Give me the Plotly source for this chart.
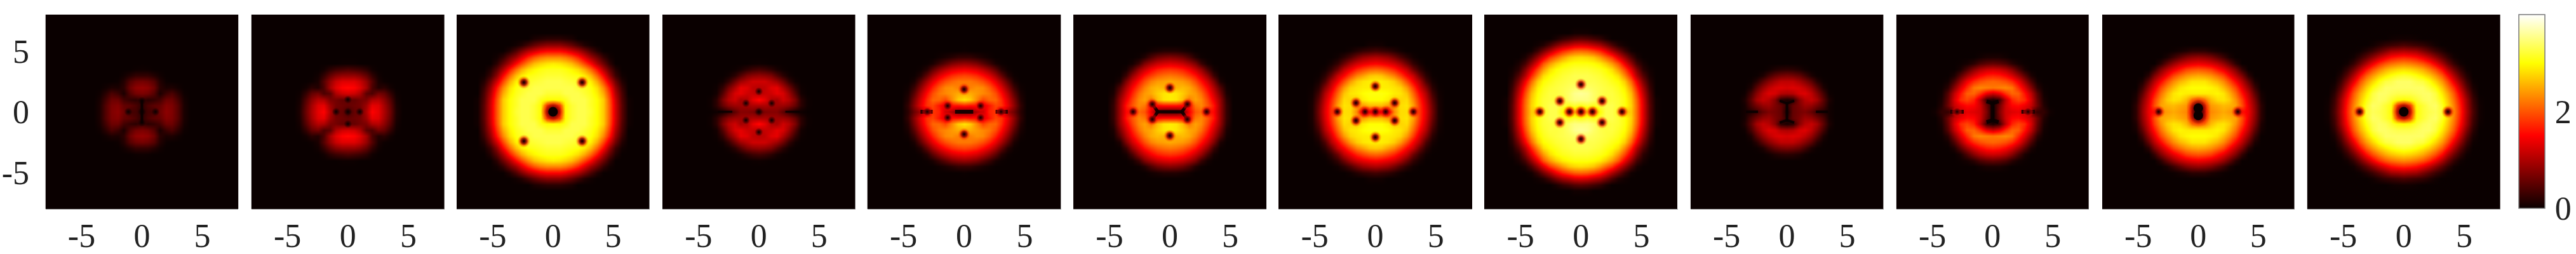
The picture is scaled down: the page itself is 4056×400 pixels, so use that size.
import numpy as np
import plotly.graph_objects as go

# density, one quadrant per panel: rows go y=0,0.5,1.. and
# columns x=0,0.5,1.. ; whatever a row leaves out is background (0)
P1 = [
    [.2, .35, .35, .6, .8, .72, .45, .1],
    [.2, .4, .5, .55, .75, .7, .45, .1],
    [.3, .2, .25, .35, .6, .6, .35, .08],
    [.7, .65, .45, .1, .3, .4, .2, .03],
    [.85, .8, .6, .2, .1, .12, .05],
    [.65, .6, .45, .15, .02],
    [.25, .25, .15, .05],
    [.03, .02],
]
P2 = [
    [.3, .55, .55, 1.0, 1.5, 1.35, 1.0, .6, .12],
    [.55, .6, .65, .9, 1.35, 1.3, .95, .55, .1],
    [.55, .55, .65, .7, 1.0, 1.05, .8, .45, .07],
    [1.25, 1.2, 1.0, .5, .4, .65, .55, .25, .03],
    [1.55, 1.5, 1.3, .95, .4, .15, .2, .06],
    [1.3, 1.3, 1.15, .85, .45, .1, .02],
    [.85, .85, .75, .55, .25, .05],
    [.4, .35, .3, .2, .05],
    [.02, .02],
]
P3 = [
    [1.5, 1.7, 3.0, 3.2, 3.3, 3.3, 3.2, 3.0, 2.7, 2.0, 1.2, .5, .05],
    [1.7, 1.9, 3.0, 3.2, 3.3, 3.3, 3.15, 3.0, 2.7, 2.0, 1.2, .5, .05],
    [3.0, 3.0, 3.1, 3.3, 3.3, 3.3, 3.15, 3.0, 2.7, 1.95, 1.15, .45, .05],
    [3.2, 3.2, 3.3, 3.3, 3.3, 3.2, 3.1, 2.9, 2.5, 1.8, 1.0, .4],
    [3.3, 3.3, 3.3, 3.3, 3.2, 3.15, 3.05, 2.8, 2.3, 1.6, .85, .3],
    [3.3, 3.3, 3.25, 3.2, 3.15, 3.05, 2.9, 2.5, 1.9, 1.2, .6, .15],
    [3.2, 3.2, 3.15, 3.1, 3.05, 2.9, 2.6, 2.1, 1.5, .8, .3, .05],
    [3.1, 3.1, 3.05, 2.95, 2.8, 2.5, 2.1, 1.6, 1.0, .5, .15],
    [2.9, 2.85, 2.75, 2.6, 2.3, 1.9, 1.5, 1.0, .6, .2],
    [2.3, 2.3, 2.2, 2.0, 1.7, 1.3, .9, .6, .25, .05],
    [1.5, 1.5, 1.4, 1.2, 1.0, .7, .4, .15],
    [.8, .8, .7, .55, .35, .15, .05],
    [.2, .2, .15, .1],
]
P4 = [
    [.4, .7, .75, .75, .5, .25, .08, .02],
    [1.0, 1.0, .9, .9, .9, .8, .55, .2, .03],
    [1.55, 1.35, 1.0, .95, 1.2, 1.05, .7, .2, .03],
    [1.0, 1.15, 1.2, 1.35, 1.25, .9, .45, .06],
    [1.05, 1.1, 1.3, 1.35, 1.0, .65, .25, .03],
    [1.2, 1.2, 1.05, .9, .6, .25, .05],
    [.85, .8, .7, .45, .2, .05],
    [.35, .3, .2, .08, .02],
    [.03, .02],
]
P5 = [
    [.6, .7, 1.0, 1.2, 1.7, 1.8, 1.3, .9, .6, .2],
    [1.7, 1.6, 1.6, 1.3, 1.6, 1.9, 1.8, 1.35, .8, .25],
    [2.85, 2.7, 2.3, 1.9, 2.1, 2.1, 1.75, 1.25, .7, .17],
    [2.5, 2.5, 2.4, 2.3, 2.2, 1.95, 1.55, 1.05, .5, .1],
    [2.2, 2.25, 2.35, 2.3, 2.05, 1.7, 1.3, .8, .3, .04],
    [2.2, 2.2, 2.1, 1.95, 1.7, 1.35, .95, .5, .1],
    [1.9, 1.85, 1.75, 1.55, 1.3, .95, .55, .17, .02],
    [1.4, 1.35, 1.25, 1.05, .8, .5, .17, .03],
    [.85, .8, .7, .5, .3, .1, .02],
    [.25, .25, .17, .1, .04],
    [.02],
]
P6 = [
    [.4, .4, .6, 1.4, 2.0, 2.1, 1.7, 1.5, .9, .25],
    [1.6, 1.6, 1.5, 1.6, 2.2, 2.3, 2.0, 1.6, .9, .25],
    [2.9, 2.85, 2.6, 2.2, 2.45, 2.3, 1.9, 1.4, .85, .2],
    [2.9, 2.85, 2.7, 2.5, 2.4, 2.15, 1.7, 1.2, .65, .1],
    [2.5, 2.55, 2.6, 2.5, 2.25, 1.9, 1.5, 1.0, .45, .05],
    [2.5, 2.45, 2.4, 2.25, 1.95, 1.6, 1.2, .7, .12],
    [2.2, 2.15, 2.05, 1.85, 1.6, 1.25, .85, .3, .02],
    [1.8, 1.75, 1.65, 1.45, 1.15, .85, .4, .07],
    [1.3, 1.25, 1.15, .95, .7, .3, .07],
    [.75, .7, .6, .4, .15, .03],
    [.15, .15, .1, .05],
]
P7 = [
    [1.2, 1.4, 1.2, 2.3, 2.8, 2.8, 2.3, 1.8, 1.3, .65, .1],
    [2.6, 2.6, 2.4, 2.5, 2.8, 2.85, 2.45, 1.8, 1.25, .6, .1],
    [3.0, 3.0, 2.9, 2.7, 2.75, 2.8, 2.3, 1.7, 1.15, .5, .08],
    [3.05, 3.05, 3.0, 2.9, 2.85, 2.65, 2.1, 1.5, 1.0, .35, .05],
    [2.9, 2.9, 2.9, 2.85, 2.75, 2.4, 1.85, 1.25, .75, .2, .02],
    [2.9, 2.9, 2.85, 2.7, 2.4, 1.95, 1.45, 1.0, .4, .08],
    [2.7, 2.65, 2.45, 2.25, 1.9, 1.5, 1.15, .6, .2, .02],
    [2.1, 2.05, 1.9, 1.7, 1.4, 1.1, .6, .25, .05],
    [1.5, 1.45, 1.35, 1.2, .95, .6, .25, .08],
    [1.0, .95, .85, .65, .4, .2, .05],
    [.35, .3, .25, .15, .05],
    [.05, .05],
]
P8 = [
    [2.0, 2.6, 2.2, 3.0, 3.3, 3.3, 3.1, 2.6, 2.7, 2.1, 1.3, .5, .05],
    [3.1, 3.2, 3.1, 3.2, 3.3, 3.3, 3.2, 3.05, 2.75, 2.1, 1.3, .5, .05],
    [3.5, 3.5, 3.4, 3.2, 3.2, 3.25, 3.2, 3.05, 2.7, 2.05, 1.25, .45, .05],
    [3.6, 3.55, 3.4, 3.3, 3.25, 3.25, 3.15, 3.0, 2.6, 1.9, 1.1, .4],
    [3.4, 3.4, 3.35, 3.3, 3.25, 3.2, 3.1, 2.9, 2.4, 1.7, .95, .3],
    [3.3, 3.3, 3.3, 3.25, 3.2, 3.1, 3.0, 2.7, 2.1, 1.4, .7, .2],
    [3.3, 3.3, 3.25, 3.2, 3.1, 3.0, 2.8, 2.3, 1.7, 1.0, .45, .1],
    [3.2, 3.2, 3.15, 3.1, 3.0, 2.8, 2.4, 1.9, 1.3, .7, .2, .05],
    [3.05, 3.05, 3.0, 2.9, 2.7, 2.4, 2.0, 1.4, .85, .35, .1],
    [2.8, 2.75, 2.65, 2.4, 2.1, 1.8, 1.3, .85, .4, .1],
    [2.1, 2.05, 1.9, 1.7, 1.4, 1.0, .65, .3, .05],
    [1.3, 1.25, 1.1, .95, .7, .4, .15, .05],
    [.5, .45, .35, .25, .1],
    [.05, .05],
]
P9 = [
    [.05, .55, .65, .7, .55, .3, .15, .05],
    [.2, .55, .7, .9, .85, .65, .4, .07],
    [.1, .2, .75, 1.05, 1.15, .95, .5, .12],
    [1.0, 1.05, 1.25, 1.3, 1.1, .75, .35, .03],
    [1.25, 1.3, 1.25, 1.1, .85, .5, .12],
    [1.1, 1.1, .95, .75, .5, .18, .02],
    [.7, .65, .55, .35, .12, .02],
    [.2, .18, .12, .04],
]
P10 = [
    [0, .7, 1.2, 1.3, 1.35, 1.1, .5, .25, .25, .05],
    [.05, .6, 1.2, 1.5, 1.55, 1.4, 1.15, .6, .15],
    [.1, .3, 1.1, 1.7, 1.9, 1.75, 1.25, .55, .1],
    [1.2, 1.4, 1.8, 2.1, 2.05, 1.6, 1.1, .45, .05],
    [2.2, 2.25, 2.3, 2.2, 1.75, 1.3, .75, .2, .02],
    [2.1, 2.05, 1.95, 1.75, 1.4, .9, .4, .05],
    [1.7, 1.65, 1.5, 1.25, .9, .5, .12],
    [1.2, 1.15, 1.0, .75, .4, .1],
    [.55, .5, .4, .2, .07, .02],
    [.1, .1, .05],
]
P11 = [
    [1.4, 1.7, 2.3, 2.4, 2.5, 2.4, 2.3, 1.6, 1.4, .85, .2],
    [1.6, 1.8, 2.4, 2.5, 2.6, 2.55, 2.45, 1.95, 1.35, .8, .2],
    [2.1, 2.2, 2.6, 2.8, 2.85, 2.7, 2.35, 1.85, 1.25, .7, .12],
    [2.9, 2.9, 2.9, 2.95, 2.85, 2.55, 2.15, 1.6, 1.1, .5, .07],
    [3.0, 3.0, 2.95, 2.85, 2.6, 2.3, 1.9, 1.35, .85, .3],
    [2.85, 2.85, 2.7, 2.55, 2.3, 1.95, 1.5, 1.05, .55, .1],
    [2.5, 2.45, 2.35, 2.15, 1.9, 1.5, 1.1, .7, .2],
    [2.0, 1.95, 1.85, 1.6, 1.35, 1.05, .7, .25],
    [1.4, 1.35, 1.25, 1.1, .85, .55, .2],
    [.85, .8, .7, .5, .3, .1],
    [.2, .2, .12, .07, .02],
]
P12 = [
    [1.5, 1.7, 3.0, 3.2, 3.3, 3.35, 3.2, 2.6, 2.3, 1.7, 1.0, .4, .05],
    [1.7, 1.9, 3.05, 3.2, 3.35, 3.4, 3.15, 2.75, 2.25, 1.65, .95, .35, .05],
    [3.0, 3.05, 3.2, 3.35, 3.4, 3.3, 3.05, 2.65, 2.15, 1.55, .9, .3, .03],
    [3.3, 3.3, 3.35, 3.4, 3.4, 3.25, 2.9, 2.5, 2.0, 1.35, .7, .2],
    [3.4, 3.4, 3.4, 3.4, 3.25, 3.05, 2.7, 2.25, 1.75, 1.1, .5, .1],
    [3.4, 3.4, 3.3, 3.25, 3.05, 2.75, 2.4, 1.95, 1.35, .8, .3, .03],
    [3.2, 3.15, 3.05, 2.9, 2.7, 2.4, 2.05, 1.55, 1.0, .5, .15],
    [2.8, 2.75, 2.65, 2.5, 2.25, 1.95, 1.55, 1.05, .6, .25, .03],
    [2.3, 2.25, 2.15, 2.0, 1.75, 1.4, 1.0, .6, .25, .05],
    [1.7, 1.65, 1.55, 1.35, 1.1, .8, .5, .25, .05],
    [1.0, .95, .9, .7, .5, .3, .15, .03],
    [.4, .35, .3, .25, .15, .05],
    [.05, .05, .03],
]
panels = [P1, P2, P3, P4, P5, P6, P7, P8, P9, P10, P11, P12]

# vortex cores (x, y)
vortex_x = [
    [-1.13, 1.13, 0, 0, 0],
    [-.98, .98, 0, 0, 0],
    [-2.42, 2.42, -2.42, 2.42],
    [0, 0, -1.07, 1.07, -1.07, 1.07, 0],
    [0, 0, -1.36, 1.36, -1.36, 1.36, -3.05, 3.05],
    [0, 0, -1.45, 1.45, -1.45, 1.45, -3.05, 3.05],
    [0, 0, -1.6, 1.6, -1.6, 1.6, -3.15, 3.15, -.85, 0, .85],
    [0, 0, -1.75, 1.75, -1.75, 1.75, -3.4, 3.4, -.95, 0, .95],
    [],
    [-2.95, 2.95],
    [-3.3, 3.3],
    [-3.66, 3.66],
]
vortex_y = [
    [0, 0, 0, .9, -.9],
    [0, 0, 0, 1.0, -1.0],
    [2.42, 2.42, -2.42, -2.42],
    [1.68, -1.68, .7, .7, -.7, -.7, 0],
    [1.85, -1.85, .48, .48, -.48, -.48, 0, 0],
    [1.97, -1.97, .62, .62, -.62, -.62, 0, 0],
    [2.1, -2.1, .73, .73, -.73, -.73, 0, 0, 0, 0, 0],
    [2.25, -2.25, .88, .88, -.88, -.88, 0, 0, 0, 0, 0],
    [],
    [0, 0],
    [0, 0],
    [0, 0],
]

# the large central cores of the bright panels
center_x = [[], [], [0], [], [], [], [], [], [], [], [0, 0], [0]]
center_y = [[], [], [0], [], [], [], [], [], [], [], [.3, -.3], [0]]

# dark streaks between cores, None breaks the line
streak_x = [
    [0, 0], [], [],
    [-3.4, -2.2, None, 2.2, 3.4],
    [-.75, .75, None, -3.6, -2.6, None, 2.6, 3.6],
    [-1, 1, None, -1, -1.45, None, 1, 1.45, None, -1, -1.45, None, 1, 1.45],
    [], [],
    [0, 0, None, -.6, 0, .6, None, -.6, 0, .6, None, -3.4, -2.4, None, 2.4, 3.4],
    [0, 0, None, -.5, 0, .5, None, -.5, 0, .5, None, -3.5, -2.4, None, 2.4, 3.5],
    [], [],
]
streak_y = [
    [-.95, .95], [], [],
    [0, 0, None, 0, 0],
    [0, 0, None, 0, 0, None, 0, 0],
    [0, 0, None, 0, .62, None, 0, .62, None, 0, -.62, None, 0, -.62],
    [], [],
    [-.8, .8, None, .9, .7, .9, None, -.9, -.7, -.9, None, 0, 0, None, 0, 0],
    [-.8, .8, None, .85, .7, .85, None, -.85, -.7, -.85, None, 0, 0, None, 0, 0],
    [], [],
]

grid = np.arange(-8, 8.5, 0.5)
ticks = [-5, 0, 5]
tick_labels = ["-5", "0", "5"]
bar_ticks = [0, 2, 4]

# panel edges in pixels of the 4056x400 page
W, H = 4056, 400
left = [71.5, 395.6, 719, 1043, 1365.5, 1690, 2013, 2337, 2661.7, 2985.7, 3310, 3632.6]
right = [375.4, 700, 1022.5, 1346.6, 1670.6, 1994, 2318, 2641.5, 2965.5, 3289, 3612.5, 3937]
top, bottom = 23, 329

# the wide zooms squeezed x, so those quadrants were read a little narrow
x_stretch = [1, 1, 1.04, 1, 1.03, 1.04, 1.04, 1.03, 1, 1.06, 1.04, 1.04]

halo_size = [0, 0, 21, 0, 20, 20, 20, 20, 0, 20, 21, 21]
core_size = [13, 13, 13, 13, 13, 13, 12, 12, 0, 13, 13, 13]
line_width = [4, 0, 0, 3, 6, 5, 0, 0, 4, 6, 0, 0]

DARK = "rgba(10,0,0,1)"
DARK_0 = "rgba(10,0,0,0)"
RED = "rgba(235,0,0,0.95)"
RED_0 = "rgba(235,0,0,0)"
FONT = dict(family="Liberation Serif", size=52, color="#222222")


def unfold(rows):
    """Pad a quadrant with background and mirror it into the whole panel."""
    n = len(grid) // 2 + 1
    q = np.zeros((n, n))
    for j, row in enumerate(rows):
        q[j, :len(row)] = row
    right_half = np.vstack([q[:0:-1], q])
    return np.hstack([right_half[:, :0:-1], right_half])


def dots(x, y, xa, ya, size, outer, inner=None):
    marker = dict(size=size, color=outer, line_width=0)
    if inner:
        marker["gradient"] = dict(type="radial", color=inner)
    return go.Scatter(x=x, y=y, mode="markers", xaxis=xa, yaxis=ya, marker=marker,
                      showlegend=False, hoverinfo="skip")


fig = go.Figure()
layout = {}
for i, rows in enumerate(panels):
    suffix = "" if i == 0 else str(i + 1)
    xa, ya = "x" + suffix, "y" + suffix
    fig.add_trace(go.Heatmap(
        x=grid * x_stretch[i], y=grid, z=unfold(rows), zsmooth="best",
        coloraxis="coloraxis", xaxis=xa, yaxis=ya, hoverinfo="skip",
    ))
    if line_width[i]:
        fig.add_trace(go.Scatter(
            x=streak_x[i], y=streak_y[i], mode="lines", xaxis=xa, yaxis=ya,
            line=dict(color="rgba(10,0,0,0.9)", width=line_width[i]),
            showlegend=False, hoverinfo="skip", connectgaps=False,
        ))
    if center_x[i]:
        fig.add_trace(dots(center_x[i], center_y[i], xa, ya, 38, RED_0, RED))
        fig.add_trace(dots(center_x[i], center_y[i], xa, ya, 28, DARK_0, DARK))
        fig.add_trace(dots(center_x[i], center_y[i], xa, ya, 15, DARK))
    if halo_size[i]:
        # drawn twice so the red rim stays strong around the core
        fig.add_trace(dots(vortex_x[i], vortex_y[i], xa, ya, halo_size[i], RED_0, RED))
        fig.add_trace(dots(vortex_x[i], vortex_y[i], xa, ya, halo_size[i] - 4, RED_0, RED))
    if core_size[i]:
        fig.add_trace(dots(vortex_x[i], vortex_y[i], xa, ya, core_size[i], DARK_0, DARK))
    layout["xaxis" + suffix] = dict(
        domain=[left[i] / W, right[i] / W], range=[-8, 8], anchor=ya,
        tickvals=ticks, ticktext=tick_labels, tickfont=FONT,
        ticks="", ticklabelstandoff=-3,
        showgrid=False, zeroline=False, showline=True, linecolor="#999999", linewidth=1,
    )
    layout["yaxis" + suffix] = dict(
        domain=[1 - bottom / H, 1 - top / H], range=[-8, 8], anchor=xa,
        tickvals=ticks, ticktext=tick_labels, tickfont=FONT,
        ticks="outside" if i == 0 else "", ticklen=14, tickcolor="rgba(0,0,0,0)",
        showticklabels=i == 0, showgrid=False, zeroline=False,
    )

fig.update_layout(
    width=W, height=H, margin=dict(l=0, r=0, t=0, b=0, autoexpand=False),
    paper_bgcolor="white", plot_bgcolor="white", showlegend=False,
    coloraxis=dict(
        cmin=0, cmax=4,
        colorscale=[[0, "rgb(10,0,0)"], [0.375, "rgb(255,0,0)"],
                    [0.75, "rgb(255,255,0)"], [1, "rgb(255,255,255)"]],
        colorbar=dict(
            x=3965.7 / W, xanchor="left", y=1 - 328 / H, yanchor="bottom",
            len=305 / H, thickness=41, thicknessmode="pixels",
            xpad=0, ypad=0, outlinecolor="#777777", outlinewidth=1.5,
            tickvals=bar_ticks, ticktext=[str(v) for v in bar_ticks], tickfont=FONT,
            ticks="outside", ticklen=5, tickcolor="rgba(0,0,0,0)",
        ),
    ),
    **layout,
)

fig.write_html("out.html", post_script="document.body.style.margin='0';",
               config=dict(displayModeBar=False))
